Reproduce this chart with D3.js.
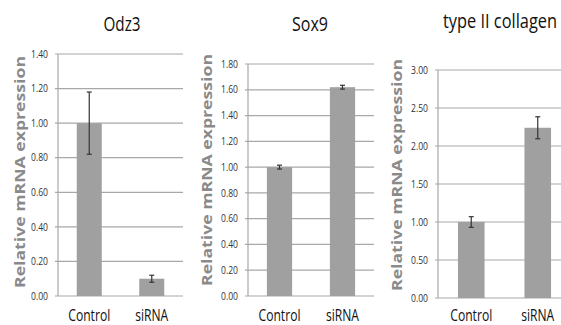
<!DOCTYPE html>
<html>
<head>
<meta charset="utf-8">
<script src="https://cdn.jsdelivr.net/npm/d3@7"></script>
<style>
  body { margin: 0; background: #fff; }
  svg { display: block; }
  text { font-family: "Open Sans", "Liberation Sans", sans-serif; }
</style>
</head>
<body>
<svg width="561" height="325"></svg>
<script>
const groups = ["Control", "siRNA"];

const titles = ["Odz3", "Sox9", "type II collagen"];
const odz3Values = [1.00, 0.10];
const odz3Errors = [0.18, 0.02];
const sox9Values = [1.00, 1.62];
const sox9Errors = [0.015, 0.015];
const col2Values = [1.00, 2.24];
const col2Errors = [0.07, 0.145];

const odz3Ticks = [0, 0.2, 0.4, 0.6, 0.8, 1.0, 1.2, 1.4];
const sox9Ticks = [0, 0.2, 0.4, 0.6, 0.8, 1.0, 1.2, 1.4, 1.6, 1.8];
const col2Ticks = [0, 0.5, 1.0, 1.5, 2.0, 2.5, 3.0];

const svg = d3.select("svg");

// panel layout (pixels)
const panels = [
  { title: titles[0], values: odz3Values, errors: odz3Errors, ticks: odz3Ticks, max: 1.4,
    x0: 58, x1: 183, top: 54, bottom: 296, labelX: 20, labelY: 172,
    titleX: 122, titleY: 31, titleW: 37 },
  { title: titles[1], values: sox9Values, errors: sox9Errors, ticks: sox9Ticks, max: 1.8,
    x0: 248, x1: 374, top: 64, bottom: 296, labelX: 207, labelY: 170,
    titleX: 310, titleY: 31, titleW: 36 },
  { title: titles[2], values: col2Values, errors: col2Errors, ticks: col2Ticks, max: 3.0,
    x0: 438, x1: 571, top: 70, bottom: 298, labelX: 397, labelY: 175,
    titleX: 500, titleY: 28, titleW: 114 }
];

const labelW = { Control: 42, siRNA: 33 };

// squeeze a text horizontally to a target width (narrow Calibri look)
function squeeze(text, x, y, w) {
  text.each(function(d) {
    const el = d3.select(this);
    const tw = typeof w === "function" ? w(d) : w;
    const tx = typeof x === "function" ? x(d) : x;
    const nat = this.getComputedTextLength();
    el.attr("transform", `translate(${tx},${y}) scale(${tw / nat},1)`);
  });
}

panels.forEach(p => {
  const g = svg.append("g");
  const x = d3.scaleBand().domain(groups).range([p.x0, p.x1]).padding(0);
  const y = d3.scaleLinear().domain([0, p.max]).range([p.bottom, p.top]);
  const barW = x.bandwidth() * 0.4;
  const cx = d => x(d) + x.bandwidth() / 2;
  const xEnd = Math.min(p.x1, 561);

  // gridlines with small outer ticks
  g.append("g")
    .selectAll("line")
    .data(p.ticks)
    .join("line")
    .attr("x1", p.x0 - 3)
    .attr("x2", xEnd)
    .attr("y1", d => y(d))
    .attr("y2", d => y(d))
    .attr("stroke", "#a8a8a8")
    .attr("stroke-width", 1.2);

  g.append("line")
    .attr("x1", p.x0).attr("x2", p.x0)
    .attr("y1", p.top).attr("y2", p.bottom)
    .attr("stroke", "#a8a8a8")
    .attr("stroke-width", 1.2);

  g.append("g")
    .selectAll("text")
    .data(p.ticks)
    .join("text")
    .attr("dy", "0.35em")
    .attr("text-anchor", "end")
    .attr("font-size", 10.5)
    .attr("fill", "#333")
    .text(d => d3.format(".2f")(d))
    .each(function(d) {
      const nat = this.getComputedTextLength();
      d3.select(this).attr("transform", `translate(${p.x0 - 10},${y(d)}) scale(${17 / nat},1)`);
    });

  // bars
  g.append("g")
    .selectAll("rect")
    .data(groups)
    .join("rect")
    .attr("x", d => x(d) + (x.bandwidth() - barW) / 2)
    .attr("width", barW)
    .attr("y", (d, i) => y(p.values[i]))
    .attr("height", (d, i) => y(0) - y(p.values[i]))
    .attr("fill", "#a0a0a0");

  // error bars
  const eb = g.append("g")
    .attr("stroke", "#333")
    .attr("stroke-width", 1.2)
    .selectAll("g")
    .data(groups)
    .join("g");
  eb.append("line")
    .attr("x1", cx).attr("x2", cx)
    .attr("y1", (d, i) => y(p.values[i] - p.errors[i]))
    .attr("y2", (d, i) => y(p.values[i] + p.errors[i]));
  [1, -1].forEach(s => {
    eb.append("line")
      .attr("x1", d => cx(d) - 2.5).attr("x2", d => cx(d) + 2.5)
      .attr("y1", (d, i) => y(p.values[i] + s * p.errors[i]))
      .attr("y2", (d, i) => y(p.values[i] + s * p.errors[i]));
  });

  // category labels
  g.append("g")
    .selectAll("text")
    .data(groups)
    .join("text")
    .attr("text-anchor", "middle")
    .attr("font-size", 16)
    .attr("fill", "#111")
    .text(d => d)
    .call(squeeze, cx, 321, d => labelW[d]);

  g.append("text")
    .attr("text-anchor", "middle")
    .attr("font-size", 20)
    .attr("fill", "#111")
    .text(p.title)
    .call(squeeze, p.titleX, p.titleY, p.titleW);

  g.append("text")
    .attr("transform", `translate(${p.labelX},${p.labelY}) rotate(-90)`)
    .attr("dy", "0.35em")
    .attr("text-anchor", "middle")
    .attr("font-family", "Liberation Sans, Arial, sans-serif")
    .attr("font-weight", "bold")
    .attr("font-size", 15)
    .attr("textLength", 232)
    .attr("lengthAdjust", "spacingAndGlyphs")
    .attr("fill", "#8a8a8a")
    .text("Relative mRNA expression");
});
</script>
</body>
</html>
